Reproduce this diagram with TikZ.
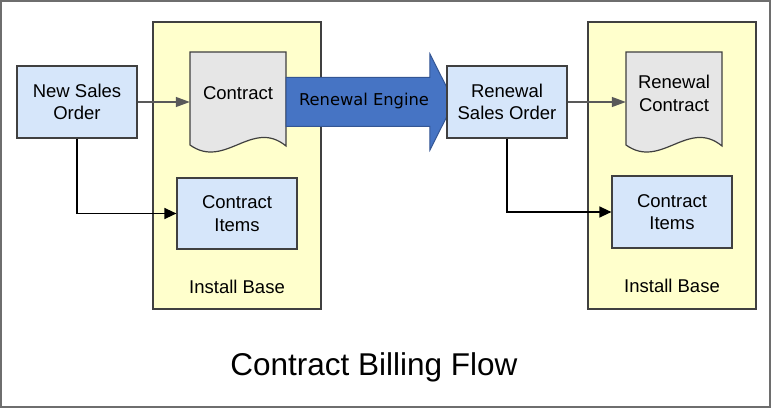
\documentclass[tikz,border=0pt]{standalone}
\usepackage{fontspec}
\setmainfont{Liberation Sans}
\newfontfamily\enginefont{DejaVu Sans}
\usepackage{tikz}
\usetikzlibrary{positioning}
\usetikzlibrary{arrows.meta}
\usetikzlibrary{shapes.arrows}
\definecolor{boxblue}{RGB}{214,230,250}
\definecolor{boxline}{RGB}{64,64,64}
\definecolor{baseyellow}{RGB}{255,255,204}
\definecolor{docgray}{RGB}{230,230,230}
\definecolor{enginefill}{RGB}{70,116,196}
\definecolor{engineline}{RGB}{52,86,148}
\definecolor{linkgray}{RGB}{89,89,89}
\definecolor{framegray}{RGB}{110,110,110}
\newcommand{\diagfont}{\fontsize{18.5}{22.3}\selectfont}
\tikzset{
        % Sales order and item boxes
        box_blue/.style={rectangle, align=center, inner sep=0pt, draw=boxline, fill=boxblue, line width=1.2pt, minimum width=120pt, minimum height=72pt, font=\diagfont},
        % Install base areas
        base_area/.style={rectangle, inner sep=0pt, draw=boxline, fill=baseyellow, line width=1.2pt, minimum width=168pt, minimum height=287pt},
        base_label/.style={inner sep=0pt, font=\diagfont},
        % Contract documents
        doc_paper/.style={draw=boxline, fill=docgray, line width=1.2pt},
        doc_text/.style={align=center, inner sep=0pt, minimum width=96pt, minimum height=83pt, font=\diagfont},
        % Links
        link_gray/.style={-{Triangle[length=14pt,width=10pt]}, draw=linkgray, fill=linkgray, line width=1.3pt},
        link_black/.style={-{Triangle[length=12pt,width=11pt]}, draw=black, line width=1.3pt},
        % Renewal engine block arrow
        engine_arrow/.style={single arrow, inner xsep=0pt, inner ysep=16pt, text height=12pt, text depth=4pt, draw=engineline, fill=enginefill, line width=1pt, minimum height=168pt, single arrow head extend=23.5pt, single arrow tip angle=126.4, font=\enginefont\fontsize{16.3}{18}\selectfont}
}
\begin{document}
\begin{tikzpicture}[x=1pt, y=-1pt]
    \useasboundingbox (0,0) rectangle (772,409);
    \draw[framegray, line width=1.5pt] (1,1) rectangle (770,407);
    % Install base areas
    \node[base_area] (base_left) at (237,165.5) {};
    \node[base_area] (base_right) at (672,165.5) {};
    \node[base_label] (base_left_label) at (237,287) {Install Base};
    \node[base_label] (base_right_label) at (672,286) {Install Base};
    % Document outlines
    \draw[doc_paper, shift={(190,52)}] (0,0) -- (96,0) -- (96,94) .. controls (62,66) and (35,118) .. (0,93) -- cycle;
    \draw[doc_paper, shift={(626,52)}] (0,0) -- (96,0) -- (96,94) .. controls (62,66) and (35,118) .. (0,93) -- cycle;
    % Nodes
    \node[box_blue] (new_order) at (77,102) {New Sales\\Order};
    \node[doc_text] (contract) at (238,93.5) {Contract};
    \node[box_blue, minimum height=71pt] (items_left) at (237,213.5) {Contract\\Items};
    \node[engine_arrow] (engine) at (364,102) {Renewal Engine};
    \node[box_blue] (renewal_order) at (507,102) {Renewal\\Sales Order};
    \node[doc_text] (renewal_contract) at (674,93.5) {Renewal\\Contract};
    \node[box_blue] (items_right) at (672,212) {Contract\\Items};
    % Links
    \draw[link_gray] (new_order.east) -- (new_order.east -| contract.west);
    \draw[link_black] (new_order.south) |- (items_left.west);
    \draw[link_gray] (renewal_order.east) -- (renewal_order.east -| renewal_contract.west);
    \draw[link_black] (renewal_order.south) |- (items_right.west);
    % Title
    \node[font=\fontsize{31.5}{36}\selectfont, inner sep=0pt] (title) at (374,367) {Contract Billing Flow};
\end{tikzpicture}
\end{document}
